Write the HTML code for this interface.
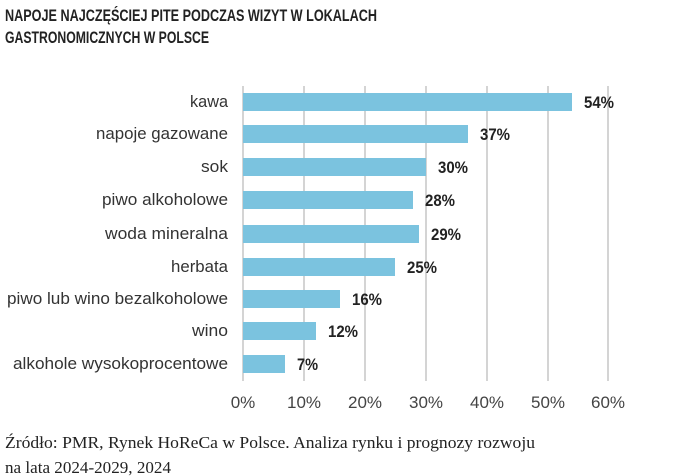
<!DOCTYPE html>
<html><head><meta charset="utf-8"><style>
html,body{margin:0;padding:0;background:#fff;width:695px;height:476px;overflow:hidden}
</style></head><body>
<svg width="695" height="476" xmlns="http://www.w3.org/2000/svg">
<g font-family="'Liberation Sans',sans-serif" font-weight="bold" font-size="17" fill="#222">
<text x="5" y="21" textLength="372" lengthAdjust="spacingAndGlyphs">NAPOJE NAJCZĘŚCIEJ PITE PODCZAS WIZYT W LOKALACH</text>
<text x="5" y="43" textLength="204" lengthAdjust="spacingAndGlyphs">GASTRONOMICZNYCH W POLSCE</text>
</g>
<g stroke="#bdbdbd" stroke-width="1.3">
<line x1="243" y1="86" x2="243" y2="381"/>
<line x1="304" y1="86" x2="304" y2="381"/>
<line x1="365" y1="86" x2="365" y2="381"/>
<line x1="426" y1="86" x2="426" y2="381"/>
<line x1="487" y1="86" x2="487" y2="381"/>
<line x1="548" y1="86" x2="548" y2="381"/>
<line x1="608" y1="86" x2="608" y2="381"/>
</g>
<g fill="#7bc3df">
<rect x="243" y="93" width="329" height="18"/>
<rect x="243" y="125" width="225" height="18"/>
<rect x="243" y="158" width="183" height="18"/>
<rect x="243" y="191" width="170" height="18"/>
<rect x="243" y="225" width="176" height="18"/>
<rect x="243" y="258" width="152" height="18"/>
<rect x="243" y="290" width="97" height="18"/>
<rect x="243" y="322" width="73" height="18"/>
<rect x="243" y="355" width="42" height="18"/>
</g>
<g font-family="'Liberation Sans',sans-serif" font-size="17" fill="#333" lengthAdjust="spacingAndGlyphs">
<text x="190" y="107" textLength="38" lengthAdjust="spacingAndGlyphs">kawa</text>
<text x="96" y="139" textLength="132" lengthAdjust="spacingAndGlyphs">napoje gazowane</text>
<text x="201" y="172" textLength="27" lengthAdjust="spacingAndGlyphs">sok</text>
<text x="102" y="205" textLength="126" lengthAdjust="spacingAndGlyphs">piwo alkoholowe</text>
<text x="105" y="239" textLength="123" lengthAdjust="spacingAndGlyphs">woda mineralna</text>
<text x="171" y="272" textLength="57" lengthAdjust="spacingAndGlyphs">herbata</text>
<text x="7" y="304" textLength="221" lengthAdjust="spacingAndGlyphs">piwo lub wino bezalkoholowe</text>
<text x="192" y="336" textLength="36" lengthAdjust="spacingAndGlyphs">wino</text>
<text x="13" y="369" textLength="215" lengthAdjust="spacingAndGlyphs">alkohole wysokoprocentowe</text>
</g>
<g font-family="'Liberation Sans',sans-serif" font-size="17" font-weight="bold" fill="#222">
<text x="584" y="108" textLength="30" lengthAdjust="spacingAndGlyphs">54%</text>
<text x="480" y="140" textLength="30" lengthAdjust="spacingAndGlyphs">37%</text>
<text x="438" y="173" textLength="30" lengthAdjust="spacingAndGlyphs">30%</text>
<text x="425" y="206" textLength="30" lengthAdjust="spacingAndGlyphs">28%</text>
<text x="431" y="240" textLength="30" lengthAdjust="spacingAndGlyphs">29%</text>
<text x="407" y="273" textLength="30" lengthAdjust="spacingAndGlyphs">25%</text>
<text x="352" y="305" textLength="30" lengthAdjust="spacingAndGlyphs">16%</text>
<text x="328" y="337" textLength="30" lengthAdjust="spacingAndGlyphs">12%</text>
<text x="297" y="370" textLength="21" lengthAdjust="spacingAndGlyphs">7%</text>
</g>
<g font-family="'Liberation Sans',sans-serif" font-size="17" fill="#444" text-anchor="middle">
<text x="243" y="408">0%</text>
<text x="304" y="408">10%</text>
<text x="365" y="408">20%</text>
<text x="426" y="408">30%</text>
<text x="487" y="408">40%</text>
<text x="548" y="408">50%</text>
<text x="608" y="408">60%</text>
</g>
<g font-family="'Liberation Serif',serif" font-size="17" fill="#222">
<text x="5" y="448" textLength="530" lengthAdjust="spacingAndGlyphs">Źródło: PMR, Rynek HoReCa w Polsce. Analiza rynku i prognozy rozwoju</text>
<text x="5" y="473" textLength="166" lengthAdjust="spacingAndGlyphs">na lata 2024-2029, 2024</text>
</g>
</svg>
</body></html>
